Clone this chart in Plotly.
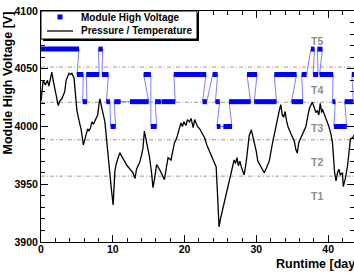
import plotly.graph_objects as go

# ---------------- data ----------------
# Pressure / Temperature curve (scaled to HV units)
pt_days = [0.0, 0.3, 0.6, 0.9, 1.1, 1.3, 1.5, 1.7, 2.0, 2.2, 2.4, 2.6, 2.9, 3.1, 3.3, 3.5, 3.7, 3.9,
           4.1, 4.3, 4.6, 4.8, 5.0, 5.3, 5.6, 5.9, 6.1, 6.3, 6.5, 6.7, 6.9, 7.1, 7.3, 7.6, 7.9, 8.1,
           8.2, 8.4, 8.6, 8.9, 9.1, 9.3, 9.6, 9.8, 10.05, 10.2, 10.3, 10.5, 10.7, 10.9, 11.0, 12.0,
           12.8, 13.1, 13.3, 13.75, 14.0, 14.2, 14.4, 14.6, 14.8, 15.1, 15.4, 15.6, 15.8, 16.1, 16.5,
           16.9, 17.2, 17.5, 17.7, 18.1, 18.4, 18.6, 18.9, 19.1, 19.3, 19.5, 19.7, 19.9, 20.2, 20.4,
           20.7, 20.9, 21.2, 21.4, 21.6, 21.8, 22.1, 22.5, 22.8, 23.1, 23.5, 23.9, 24.2, 24.4, 24.6,
           24.8, 25.0, 25.3, 25.7, 26.0, 26.25, 26.5, 26.9, 27.1, 27.3, 27.5, 27.7, 27.9, 28.1, 28.3,
           28.6, 28.8, 29.0, 29.3, 29.5, 29.7, 30.0, 30.2, 30.6, 31.1, 31.4, 31.8, 32.2, 32.5, 32.7,
           33.0, 33.2, 33.4, 33.6, 33.8, 34.0, 34.2, 34.4, 34.8, 35.1, 35.3, 35.5, 35.7, 35.9, 36.2,
           36.5, 36.9, 37.2, 37.4, 37.8, 38.1, 38.3, 38.5, 38.7, 38.9, 39.1, 39.2, 39.5, 39.7, 40.1,
           40.4, 40.6, 40.9, 41.1, 41.3, 41.5, 41.7, 42.0, 42.1, 42.4, 42.7, 42.9, 43.1, 43.5, 43.8]
pt_volts = [4022, 4040, 4036, 4040, 4035, 4043, 4047, 4040, 4030, 4025, 4018, 4022, 4024, 4027, 4030, 4040, 4044, 4046,
            4045, 4046, 4042, 4030, 4014, 4005, 3997, 3984, 3988, 3993, 3998, 3996, 3999, 4004, 4002, 4006, 4010, 4020,
            4024, 4018, 4013, 4004, 3991, 3976, 3958, 3946, 3932, 3950, 3962, 3968, 3973, 3976, 3977, 3966,
            3960, 3955, 3963, 3969, 3975, 3981, 3996, 3990, 3986, 3974, 3960, 3947, 3954, 3967, 3963,
            3958, 3954, 3966, 3973, 3971, 3980, 3986, 3990, 3996, 3999, 4003, 4000, 4004, 4001, 4006,
            4004, 4007, 3999, 4006, 4003, 4000, 3998, 3994, 3990, 3984, 3978, 3972, 3968, 3965, 3940,
            3913, 3920, 3928, 3938, 3946, 3952, 3960, 3971, 3968, 3973, 3966, 3970, 3965, 3962, 3958,
            3970, 3980, 3992, 3997, 3992, 3988, 3978, 3970, 3965, 3960, 3964, 3970, 3984, 3994, 3999,
            4008, 4014, 4019, 4010, 4008, 4013, 4005, 4000, 3994, 3990, 3987, 3980, 3977, 3986, 3990,
            3994, 4000, 4010, 4016, 4021, 4016, 4012, 4014, 4010, 4020, 4012, 4015, 4010, 4007, 4000,
            3993, 3986, 3960, 3953, 3960, 3963, 3958, 3960, 3948, 3955, 3966, 3978, 3989, 3991, 3995]

# Module high voltage: runs of constant setting (start day, end day, volts)
hv_start = [0.0, 5.0, 5.8, 6.3, 8.0, 8.5, 9.1, 9.7, 10.2, 12.4, 14.3, 15.3, 15.9, 16.8, 18.5, 22.5, 23.9,
            24.3, 24.5, 25.4, 26.2, 28.7, 29.7, 32.5, 34.9, 36.3, 37.6, 37.9, 38.5, 38.8, 40.6, 40.8,
            42.3, 43.3]
hv_end = [5.3, 5.9, 6.4, 8.1, 8.6, 9.4, 9.6, 10.4, 11.1, 15.0, 15.3, 16.1, 16.7, 18.7, 23.0, 23.1, 24.6,
          24.9, 25.0, 26.6, 29.2, 30.1, 32.8, 35.6, 36.5, 37.0, 38.1, 38.6, 39.2, 40.7, 41.0, 42.6,
          43.5, 43.8]
hv_level = [4067, 4045, 4021.5, 4045, 4067, 4045, 4021.5, 4000, 4021.5, 4021.5, 4045, 4000, 4021.5,
            4021.5, 4045, 4021.5, 4045, 4021.5, 4000, 4000, 4021.5, 4045, 4021.5, 4045, 4021.5, 4045,
            4067, 4045, 4067, 4045, 4021.5, 4000, 4021.5, 4045]

# temperature band boundaries and labels
band_edges = [4051.5, 4021.0, 3988.5, 3957.0]
band_names = ["T5", "T4", "T3", "T2", "T1"]
band_label_y = [4074, 4031.5, 3998.5, 3969.5, 3940]
band_label_x = 38.5

legend_names = ["Module High Voltage", "Pressure / Temperature"]
x_title = "Runtime [days]"
y_title = "Module High Voltage [V]"

# ---------------- figure ----------------
W, H = 354, 273
ML, MR, MT, MB = 41, 0, 11, 31
PW, PH = W - ML - MR, H - MT - MB


def px(x):
    return (x - ML) / PW


def py(y):
    return (H - MB - y) / PH


FONT = "Liberation Sans, Arial, Helvetica, sans-serif"

thin_x, thin_y, thick_x, thick_y = [], [], [], []
for s, e, v in zip(hv_start, hv_end, hv_level):
    thin_x += [s, e]
    thin_y += [v, v]
    thick_x += [s, e, None]
    thick_y += [v, v, None]

fig = go.Figure()
fig.add_trace(go.Scatter(x=thin_x, y=thin_y, mode="lines",
                         line=dict(color="#8080ff", width=1), hoverinfo="skip", showlegend=False))
fig.add_trace(go.Scatter(x=thick_x, y=thick_y, mode="lines",
                         line=dict(color="#0000ff", width=5), name=legend_names[0], showlegend=False))
fig.add_trace(go.Scatter(x=pt_days, y=pt_volts, mode="lines",
                         line=dict(color="black", width=1.3), name=legend_names[1], showlegend=False))

shapes = []
for b in band_edges:
    shapes.append(dict(type="line", xref="paper", x0=0, x1=1, yref="y", y0=b, y1=b,
                       line=dict(color="#9a9a9a", width=1, dash="4px,2px,1px,2px"), layer="below"))

# legend box with shadow
shapes.append(dict(type="rect", xref="paper", yref="paper", x0=px(43), x1=px(199), y0=py(41), y1=py(13),
                   fillcolor="black", line=dict(width=0), layer="above"))
shapes.append(dict(type="rect", xref="paper", yref="paper", x0=px(41), x1=px(197), y0=py(39), y1=py(11),
                   fillcolor="white", line=dict(color="black", width=1), layer="above"))
shapes.append(dict(type="rect", xref="paper", yref="paper", x0=px(57.5), x1=px(62.5), y0=py(19.5), y1=py(14.5),
                   fillcolor="#0000ff", line=dict(width=0), layer="above"))
shapes.append(dict(type="line", xref="paper", yref="paper", x0=px(47), x1=px(73), y0=py(31), y1=py(31),
                   line=dict(color="black", width=1.3), layer="above"))

annotations = []
for name, yy in zip(legend_names, [17, 31]):
    annotations.append(dict(text=name, xref="paper", yref="paper", x=px(79), y=py(yy),
                            xanchor="left", yanchor="middle", showarrow=False,
                            font=dict(family=FONT, size=10, color="black", weight="bold")))
for name, yy in zip(band_names, band_label_y):
    annotations.append(dict(text=name, xref="x", yref="y", x=band_label_x, y=yy,
                            xanchor="center", yanchor="middle", showarrow=False,
                            font=dict(family=FONT, size=10.5, color="#8c8c8c", weight="bold")))
annotations.append(dict(text=x_title, xref="paper", yref="paper", x=px(274), y=py(264),
                        xanchor="left", yanchor="middle", showarrow=False,
                        font=dict(family=FONT, size=12.5, color="black", weight="bold")))
annotations.append(dict(text=y_title, xref="paper", yref="paper", x=px(7), y=py(10),
                        xanchor="center", yanchor="top", textangle=-90, showarrow=False,
                        font=dict(family=FONT, size=12.5, color="black", weight="bold")))

axis_common = dict(showgrid=False, zeroline=False, showline=True, linecolor="black", linewidth=1,
                   mirror="allticks", ticks="inside", tickcolor="black", ticklen=7, tickwidth=1,
                   tickfont=dict(family=FONT, size=10.5, color="black", weight="bold"))

fig.update_layout(
    width=W, height=H,
    margin=dict(l=ML, r=MR, t=MT, b=MB, pad=0),
    paper_bgcolor="white", plot_bgcolor="white",
    showlegend=False,
    xaxis=dict(range=[0, 43.6], tick0=0, dtick=10, ticklabelstandoff=-3,
               minor=dict(ticks="inside", dtick=2, ticklen=4, tickcolor="black", showgrid=False),
               **axis_common),
    yaxis=dict(range=[3900, 4100], tick0=3900, dtick=50,
               minor=dict(ticks="inside", dtick=10, ticklen=4, tickcolor="black", showgrid=False),
               **axis_common),
    shapes=shapes,
    annotations=annotations,
)

fig.write_html("out.html", config={"displayModeBar": False},
               post_script="document.body.style.margin='0';document.body.style.overflow='hidden';")
